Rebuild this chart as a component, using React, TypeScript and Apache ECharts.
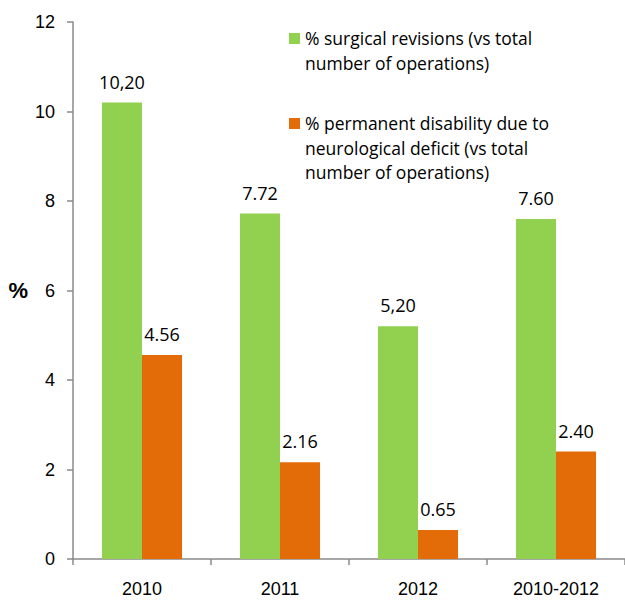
import React, { useEffect, useRef } from "react";
import * as echarts from "echarts";

const categories = ["2010", "2011", "2012", "2010-2012"];
const revisions = [10.2, 7.72, 5.2, 7.6];
const revisionLabels = ["10,20", "7.72", "5,20", "7.60"];
const disability = [4.56, 2.16, 0.65, 2.4];
const disabilityLabels = ["4.56", "2.16", "0.65", "2.40"];
const legendLines1 = ["% surgical revisions (vs total", "number of operations)"];
const legendLines2 = ["% permanent disability due to", "neurological deficit (vs total", "number of operations)"];

const GREEN = "#92D050";
const ORANGE = "#E36C09";
const AXIS = "#8a8a8a";
const LABEL_FONT = "Open Sans";
const AXIS_FONT = "Liberation Sans";

export default function App() {
  const ref = useRef<HTMLDivElement>(null);
  useEffect(() => {
    if (!ref.current) return;
    const chart = echarts.init(ref.current, undefined, { renderer: "svg" });
    chart.setOption({
      animation: false,
      grid: { left: 73, top: 22, bottom: 41, right: -3, containLabel: false },
      xAxis: {
        type: "category",
        data: categories,
        axisLine: { lineStyle: { color: AXIS, width: 1.5 } },
        axisTick: { show: true, length: 6, lineStyle: { color: AXIS, width: 1.5 } },
        axisLabel: { color: "#000", fontSize: 18, fontFamily: AXIS_FONT, margin: 21 },
      },
      yAxis: {
        type: "value",
        min: 0,
        max: 12,
        interval: 2,
        name: "%",
        nameLocation: "middle",
        nameRotate: 0,
        nameGap: 45,
        nameTextStyle: { fontSize: 22, fontWeight: "bold", color: "#000", fontFamily: AXIS_FONT },
        axisLine: { show: true, lineStyle: { color: AXIS, width: 1.5 } },
        axisTick: { show: true, length: 6, inside: false, lineStyle: { color: AXIS, width: 1.5 } },
        splitLine: { show: false },
        axisLabel: { color: "#000", fontSize: 18, fontFamily: AXIS_FONT, margin: 18 },
      },
      series: [
        {
          type: "bar",
          name: "revisions",
          data: revisions,
          barGap: "0%",
          barCategoryGap: "42%",
          itemStyle: { color: GREEN },
          label: {
            show: true,
            position: "top",
            distance: 12,
            fontSize: 18,
            color: "#000",
            fontFamily: LABEL_FONT,
            formatter: (p: any) => revisionLabels[p.dataIndex],
          },
        },
        {
          type: "bar",
          name: "disability",
          data: disability,
          itemStyle: { color: ORANGE },
          label: {
            show: true,
            position: "top",
            distance: 12,
            fontSize: 18,
            color: "#000",
            fontFamily: LABEL_FONT,
            formatter: (p: any) => disabilityLabels[p.dataIndex],
          },
        },
      ],
      graphic: [
        { type: "rect", left: 289, top: 33, shape: { width: 11, height: 11 }, style: { fill: GREEN } },
        {
          type: "text",
          left: 305,
          top: 26,
          style: {
            text: legendLines1.join("\n"),
            fontSize: 17.5,
            fontFamily: LABEL_FONT,
            lineHeight: 24.5,
            fill: "#000",
          },
        },
        { type: "rect", left: 289, top: 118, shape: { width: 11, height: 11 }, style: { fill: ORANGE } },
        {
          type: "text",
          left: 305,
          top: 111,
          style: {
            text: legendLines2.join("\n"),
            fontSize: 17.5,
            fontFamily: LABEL_FONT,
            lineHeight: 24.5,
            fill: "#000",
          },
        },
      ],
    });
    return () => chart.dispose();
  }, []);
  return <div ref={ref} style={{ width: 625, height: 600, position: "absolute", left: 0, top: 0 }} />;
}
